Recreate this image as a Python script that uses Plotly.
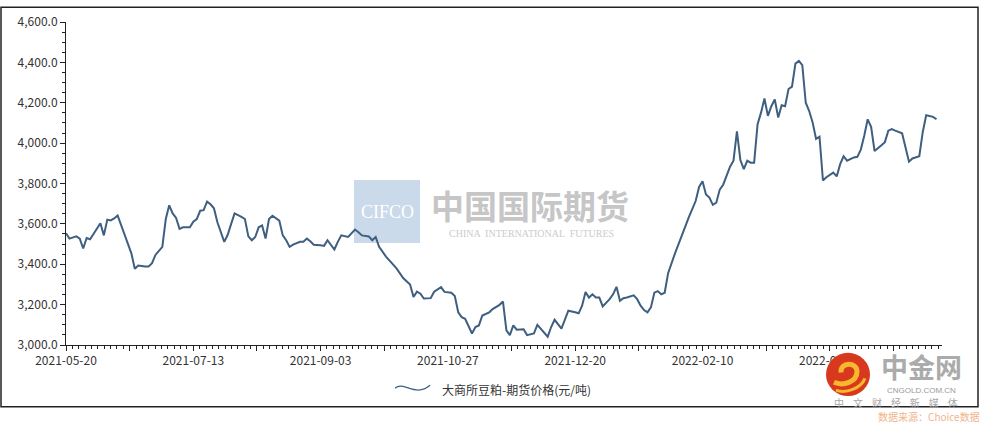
import plotly.graph_objects as go

# 大商所豆粕期货价格（元/吨），横轴为交易日序号
trade_idx = [
    0, 1, 3, 4, 5, 6, 7, 8, 10, 11, 12, 13, 14, 15, 18, 19, 20, 21, 23, 24,
    25, 26, 28, 29, 30, 31, 32, 33, 34, 36, 37, 38, 39, 40, 41, 42, 43, 44, 46, 47,
    48, 49, 51, 52, 53, 54, 55, 56, 57, 58, 59, 60, 62, 63, 64, 65, 66, 68, 69, 70,
    71, 72, 74, 75, 76, 78, 79, 80, 82, 83, 84, 85, 86, 88, 89, 90, 91, 93, 96, 98,
    100, 101, 102, 103, 104, 106, 107, 109, 110, 112, 113, 114, 115, 116, 118, 119, 120, 121, 123, 124,
    126, 127, 128, 129, 130, 131, 133, 134, 135, 136, 137, 138, 140, 141, 142, 144, 145, 146, 148, 149,
    150, 151, 152, 153, 154, 155, 156, 158, 159, 160, 161, 162, 163, 165, 166, 167, 168, 169, 170, 171,
    172, 173, 174, 175, 177, 179, 181, 183, 184, 185, 186, 187, 188, 189, 190, 191, 192, 193, 194, 195,
    196, 197, 198, 199, 200, 201, 202, 203, 204, 205, 206, 207, 208, 209, 210, 211, 212, 213, 214, 215,
    216, 217, 218, 219, 220, 221, 223, 224, 225, 226, 227, 229, 230, 231, 232, 233, 234, 235, 237, 238,
    239, 240, 241, 243, 245, 246, 248, 249, 250, 251, 252, 253,
]
price = [
    3554, 3527, 3538, 3527, 3478, 3530, 3524, 3551, 3603, 3543, 3621, 3617, 3627, 3642, 3494, 3454, 3378, 3394, 3389, 3389,
    3405, 3446, 3486, 3624, 3692, 3652, 3629, 3575, 3583, 3583, 3611, 3624, 3665, 3668, 3710, 3697, 3677, 3608, 3511, 3546,
    3600, 3652, 3635, 3624, 3538, 3519, 3535, 3583, 3592, 3527, 3624, 3640, 3616, 3543, 3519, 3486, 3497, 3511, 3511, 3527,
    3514, 3497, 3494, 3491, 3519, 3473, 3511, 3543, 3535, 3551, 3572, 3559, 3543, 3538, 3519, 3535, 3486, 3438, 3381, 3332,
    3300, 3238, 3264, 3254, 3230, 3232, 3264, 3287, 3263, 3259, 3243, 3162, 3138, 3130, 3057, 3089, 3097, 3146, 3162, 3178,
    3199, 3215, 3073, 3049, 3097, 3076, 3078, 3049, 3054, 3057, 3100, 3081, 3041, 3089, 3125, 3081, 3130, 3170, 3162, 3157,
    3195, 3263, 3235, 3251, 3235, 3235, 3191, 3227, 3251, 3288, 3219, 3232, 3235, 3246, 3227, 3195, 3173, 3162, 3186, 3259,
    3267, 3251, 3259, 3356, 3454, 3546, 3632, 3713, 3783, 3811, 3746, 3730, 3694, 3705, 3770, 3794, 3835, 3883, 3913, 4058,
    3916, 3871, 3913, 3903, 3903, 4094, 4151, 4221, 4135, 4183, 4216, 4127, 4188, 4183, 4268, 4280, 4394, 4407, 4386, 4200,
    4159, 4102, 4021, 4032, 3815, 3831, 3854, 3835, 3896, 3935, 3913, 3929, 3932, 3968, 4037, 4118, 4081, 3961, 3989, 4005,
    4062, 4070, 4062, 4049, 3908, 3924, 3935, 4054, 4138, 4135, 4130, 4118,
]

# 刻度：每 18.5 个交易日一个主刻度，隔一个标注日期
tick_pos = [0, 18.5, 37, 55.5, 74, 92.5, 111, 129.5, 148, 166.5, 185, 203.5, 222, 240.5]
tick_dates = ["2021-05-20", "", "2021-07-13", "", "2021-09-03", "", "2021-10-27", "",
              "2021-12-20", "", "2022-02-10", "", "2022-04-06", ""]
y_ticks = [3000, 3200, 3400, 3600, 3800, 4000, 4200, 4400, 4600]

series_name = "大商所豆粕-期货价格(元/吨)"

LINE_COLOR = "#3f5f80"
AXIS_COLOR = "#222222"
FONT = "Noto Sans CJK SC"

# 绘图区像素位置（982x425 画布）
L, R, T, B = 66, 942, 16, 345


def px(x):
    return (x - L) / (R - L)


def py(y):
    return (B - y) / (B - T)


def pt(x, y):
    return f"{px(x):.5f},{py(y):.5f}"


def label(text, x, y, size, color, family=FONT, xanchor="center"):
    return dict(text=text, xref="paper", yref="paper", x=px(x), y=py(y),
                showarrow=False, xanchor=xanchor, yanchor="middle",
                font=dict(family=family, size=size, color=color))


fig = go.Figure()

fig.add_trace(go.Scatter(
    x=trade_idx,
    y=price,
    mode="lines",
    name=series_name,
    line=dict(color=LINE_COLOR, width=2),
    showlegend=False,
))

shapes = []
annotations = []

# 外框
shapes.append(dict(type="rect", xref="paper", yref="paper",
                   x0=px(1), x1=px(978), y0=py(1), y1=py(408),
                   line=dict(color=AXIS_COLOR, width=1.5), layer="above"))

# 中国国际期货水印
shapes.append(dict(type="rect", xref="paper", yref="paper",
                   x0=px(354), x1=px(420), y0=py(177), y1=py(241),
                   fillcolor="#cbdaea", line=dict(width=0), layer="below"))
annotations.append(label("CIFCO", 387, 210, 18, "#ffffff", family="Liberation Serif"))
annotations.append(label("<b>中国国际期货</b>", 530, 202, 33, "#c6c6c6"))
annotations.append(label("CHINA  INTERNATIONAL  FUTURES", 531, 231, 10, "#cccccc",
                         family="Liberation Serif"))

# 图例（手绘波浪线 + 文本）
shapes.append(dict(type="path", xref="paper", yref="paper",
                   path=f"M {pt(395, 389)} C {pt(404, 381)} {pt(415, 399)} {pt(430, 386)}",
                   line=dict(color=LINE_COLOR, width=1.2), layer="above"))
annotations.append(label(series_name, 440, 390, 12, "#333333", xanchor="left"))

# 中金网标识
shapes.append(dict(type="circle", xref="paper", yref="paper",
                   x0=px(826), x1=px(870), y0=py(353), y1=py(397),
                   fillcolor="#d8391e", line=dict(width=0), layer="above"))
shapes.append(dict(type="path", xref="paper", yref="paper",
                   path=(f"M {pt(841, 373)} C {pt(840, 362)} {pt(857, 362)} {pt(857, 372)} "
                         f"C {pt(857, 383)} {pt(843, 387)} {pt(834, 383)}"),
                   line=dict(color="#f8b82e", width=5), layer="above"))
shapes.append(dict(type="path", xref="paper", yref="paper",
                   path=f"M {pt(836, 391)} C {pt(846, 395)} {pt(861, 389)} {pt(865, 379)}",
                   line=dict(color="#f8b82e", width=3), layer="above"))
annotations.append(label("<b>中金网</b>", 921, 367, 27, "#ababab"))
annotations.append(label("CNGOLD.COM.CN", 921, 391, 8, "#9a9a9a", family="Liberation Sans"))
annotations.append(label("中    文    财    经    新    媒    体", 896, 404, 10, "#a8a8a8"))
annotations.append(label("数据来源：Choice数据", 982, 418, 10, "#f2b38c", xanchor="right"))

fig.update_layout(
    width=982,
    height=425,
    margin=dict(l=L, r=982 - R, t=T, b=425 - B),
    paper_bgcolor="white",
    plot_bgcolor="white",
    font=dict(family=FONT, size=12, color="#333333"),
    shapes=shapes,
    annotations=annotations,
    showlegend=False,
)

fig.update_xaxes(
    range=[0, 254.6],
    tickmode="array",
    tickvals=tick_pos,
    ticktext=tick_dates,
    ticks="outside",
    ticklen=5,
    tickcolor=AXIS_COLOR,
    showline=True,
    linecolor=AXIS_COLOR,
    linewidth=1,
    showgrid=False,
    zeroline=False,
    tickfont=dict(family=FONT, size=12, color="#333333"),
    minor=dict(tickmode="linear", tick0=0, dtick=1.85, ticks="outside", ticklen=3,
               tickcolor=AXIS_COLOR, showgrid=False),
)

fig.update_yaxes(
    range=[3000, 4600],
    tickmode="array",
    tickvals=y_ticks,
    tickformat=",.1f",
    ticks="outside",
    ticklen=5,
    tickcolor=AXIS_COLOR,
    showline=True,
    linecolor=AXIS_COLOR,
    linewidth=1,
    showgrid=False,
    zeroline=False,
    tickfont=dict(family=FONT, size=12, color="#333333"),
    minor=dict(tickmode="linear", tick0=3000, dtick=50, ticks="outside", ticklen=3,
               tickcolor=AXIS_COLOR, showgrid=False),
)

# 页面去掉 body 默认边距，使图表贴齐窗口左上角
fig.write_html("out.html", config={"displayModeBar": False},
               post_script="document.body.style.margin='0';")
